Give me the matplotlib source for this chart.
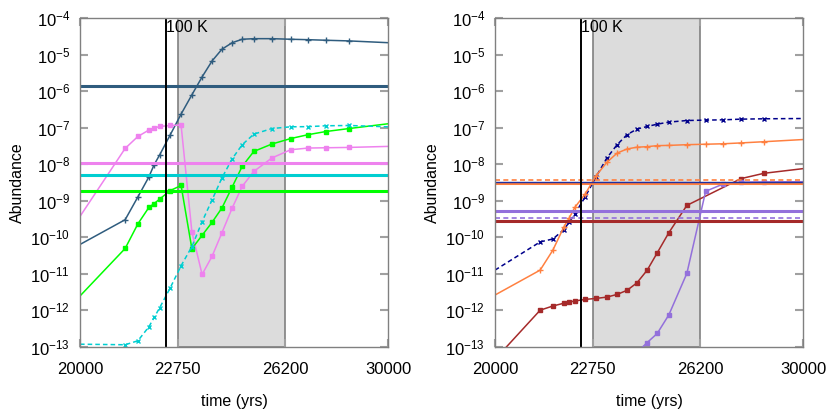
import numpy as np
import matplotlib
matplotlib.use("Agg")
import matplotlib.pyplot as plt
from matplotlib.ticker import LogLocator, LogFormatterSciNotation, FixedLocator, NullLocator, FixedFormatter
import matplotlib.transforms as mtransforms

plt.rcParams["font.family"] = ["Liberation Sans", "DejaVu Sans"]
plt.rcParams["mathtext.default"] = "regular"

# ── Data ─────────────────────────────────────────────────────────
T = [20000, 21225, 21583, 21898, 22050, 22215, 22518, 22847, 23174, 23488,
     23799, 24110, 24438, 24762, 25143, 25748, 26393, 27010, 27650, 28500, 30000]

T_100K = 22390
WARM_START, WARM_END = 22750, 26200
X_TICKS = [20000, 22750, 26200, 30000]
X_TICK_LABELS = ["20000", "22750", "26200", "30000"]

# left panel
steel = [6.3e-11, 3.0e-10, 1.26e-9, 4.45e-9, 9.6e-9, 1.81e-8, 6.2e-8, 2.34e-7, 7.87e-7, 2.44e-6,
         6.68e-6, 1.40e-5, 2.11e-5, 2.62e-5, 2.72e-5, 2.72e-5, 2.62e-5, 2.55e-5, 2.46e-5, 2.36e-5, 2.11e-5]
violet = [3.7e-10, 2.69e-8, 5.7e-8, 8.55e-8, 9.7e-8, 1.07e-7, 1.14e-7, 1.17e-7, 1.4e-10, 9.5e-12,
          3.0e-11, 1.32e-10, 6.3e-10, 2.46e-9, 6.3e-9, 1.47e-8, 2.47e-8, 2.75e-8, 2.8e-8, 2.86e-8, 3.05e-8]
green = [2.45e-12, 4.9e-11, 2.3e-10, 6.5e-10, 8.3e-10, 1.11e-9, 1.87e-9, 2.6e-9, 4.8e-11, 1.12e-10,
         2.55e-10, 6.3e-10, 2.37e-9, 8.7e-9, 2.22e-8, 3.54e-8, 5.0e-8, 6.4e-8, 7.8e-8, 9.4e-8, 1.27e-7]
cyan = [1.17e-13, 1.13e-13, 1.45e-13, 3.5e-13, 6.3e-13, 1.18e-12, 4.0e-12, 1.65e-11, 5.5e-11, 2.65e-10,
        1.05e-9, 4.2e-9, 1.4e-8, 3.4e-8, 6.6e-8, 9.4e-8, 1.05e-7, 1.06e-7, 1.12e-7, 1.14e-7, 1.05e-7]
left_levels = {"steel": 1.39e-6, "violet": 1.07e-8, "cyan": 5.1e-9, "green": 1.8e-9}

# right panel
navy = [1.25e-11, 7.4e-11, 8.9e-11, 1.6e-10, 2.55e-10, 4.3e-10, 1.25e-9, 4.5e-9, 1.47e-8, 3.4e-8,
        6.4e-8, 9.1e-8, 1.07e-7, 1.24e-7, 1.41e-7, 1.56e-7, 1.6e-7, 1.63e-7, 1.7e-7, 1.74e-7, 1.77e-7]
coral = [2.6e-12, 1.25e-11, 4.4e-11, 1.9e-10, 3.3e-10, 6.5e-10, 1.5e-9, 4.8e-9, 1.12e-8, 2.0e-8,
         2.6e-8, 2.9e-8, 3.0e-8, 3.2e-8, 3.25e-8, 3.4e-8, 3.5e-8, 3.6e-8, 3.8e-8, 4.1e-8, 4.7e-8]
T_brown = [20000, 21225, 21583, 21898, 22050, 22215, 22518, 22847, 23174, 23488,
           23799, 24110, 24438, 24762, 25143, 25748, 27650, 28500, 30000]
brown = [4.5e-14, 1.0e-12, 1.3e-12, 1.55e-12, 1.67e-12, 1.78e-12, 1.97e-12, 2.1e-12, 2.28e-12, 2.7e-12,
         3.5e-12, 5.6e-12, 1.25e-11, 3.7e-11, 1.32e-10, 7.4e-10, 4.0e-9, 5.6e-9, 7.5e-9]
T_purple = [24110, 24438, 24762, 25143, 25748, 26393, 27010, 27650, 28500, 30000]
purple = [7e-14, 1.3e-13, 2.3e-13, 7.4e-13, 1.02e-11, 1.8e-9, 2.85e-9, 3.2e-9, 3.25e-9, 3.3e-9]
right_levels = [  # value, colour, style
    (3.75e-9, "#FF8040", "--"),
    (2.95e-9, "#FF8040", "-"),
    (3.25e-9, "#2030A0", "-"),
    (5.1e-10, "#9370DB", "-"),
    (3.4e-10, "#9370DB", "--"),
    (2.85e-10, "#A52A2A", "-"),
]

C_STEEL = "#2F5C7E"
C_VIOLET = "#EE82EE"
C_GREEN = "#00FF00"
C_CYAN = "#00CED1"
C_NAVY = "#00008B"
C_CORAL = "#FF8040"
C_BROWN = "#A52A2A"
C_PURPLE = "#9370DB"


def inner(ts):
    """marker indices, skipping points on the plot edges"""
    return [i for i, t in enumerate(ts) if 20000 < t < 30000]


def series(ax, ts, vals, color, marker, ls="-", ms=3.5):
    kw = dict(color=color, lw=1.1, marker=marker, ms=ms, mew=1.0,
              markevery=inner(ts), zorder=3)
    if ls == "--":
        kw["dashes"] = (3, 2)
    ax.plot(ts, vals, **kw)


def style_axes(ax):
    ax.set_xscale("log")
    ax.set_yscale("log")
    ax.set_xlim(20000, 30000)
    ax.set_ylim(1e-13, 1e-4)
    ax.axvspan(WARM_START, WARM_END, facecolor="#DCDCDC", edgecolor="#808080",
               lw=1.2, zorder=0)
    ax.axvline(T_100K, color="black", lw=1.4, zorder=5)
    trans = mtransforms.blended_transform_factory(ax.transData, ax.transAxes)
    ax.text(T_100K, 0.958, "100 K", transform=trans, ha="left", va="baseline",
            fontsize=11.5, zorder=6)

    ax.xaxis.set_major_locator(FixedLocator(X_TICKS))
    ax.xaxis.set_major_formatter(FixedFormatter(X_TICK_LABELS))
    ax.xaxis.set_minor_locator(NullLocator())
    ax.yaxis.set_major_locator(LogLocator(base=10, numticks=20))
    ax.yaxis.set_major_formatter(LogFormatterSciNotation())
    ax.yaxis.set_minor_locator(NullLocator())
    ax.tick_params(axis="both", which="major", direction="in", labelsize=12,
                   color="#A0A0A0", width=1.5, length=6, top=True, right=True)
    ax.tick_params(axis="x", pad=11)
    ax.tick_params(axis="y", pad=7)
    for sp in ax.spines.values():
        sp.set_color("#808080")
        sp.set_linewidth(1.0)
        sp.set_zorder(7)

    ax.set_xlabel("time (yrs)", fontsize=11.5)
    ax.xaxis.set_label_coords(0.5, -0.145)
    ax.set_ylabel("Abundance", fontsize=11.5)
    ax.yaxis.set_label_coords(-0.18, 0.5)


fig = plt.figure(figsize=(8.3, 4.15), dpi=100)
ax1 = fig.add_axes([0.0964, 0.1646, 0.371, 0.792])
ax2 = fig.add_axes([0.5964, 0.1646, 0.371, 0.792])

# ── Left panel ───────────────────────────────────────────────────
style_axes(ax1)
series(ax1, T, steel, C_STEEL, "+", ms=4.5)
series(ax1, T, violet, C_VIOLET, "s", ms=3)
series(ax1, T, green, C_GREEN, "s", ms=3.3)
series(ax1, T, cyan, C_CYAN, "x", ls="--", ms=3.5)
for key, col in [("steel", C_STEEL), ("violet", C_VIOLET),
                 ("cyan", C_CYAN), ("green", C_GREEN)]:
    ax1.axhline(left_levels[key], color=col, lw=2.2, zorder=4)

# ── Right panel ──────────────────────────────────────────────────
style_axes(ax2)
series(ax2, T, navy, C_NAVY, "x", ls="--", ms=3.5)
series(ax2, T, coral, C_CORAL, "+", ms=4.5)
series(ax2, T_brown, brown, C_BROWN, "s", ms=3)
series(ax2, T_purple, purple, C_PURPLE, "s", ms=3)
for val, col, ls in right_levels:
    if ls == "--":
        ax2.axhline(val, color=col, lw=1.2, dashes=(3, 2), zorder=4)
    elif col == "#2030A0":
        ax2.axhline(val, color=col, lw=1.0, zorder=4)
    else:
        ax2.axhline(val, color=col, lw=2.2, zorder=4)

fig.savefig("out.png", dpi=100)
